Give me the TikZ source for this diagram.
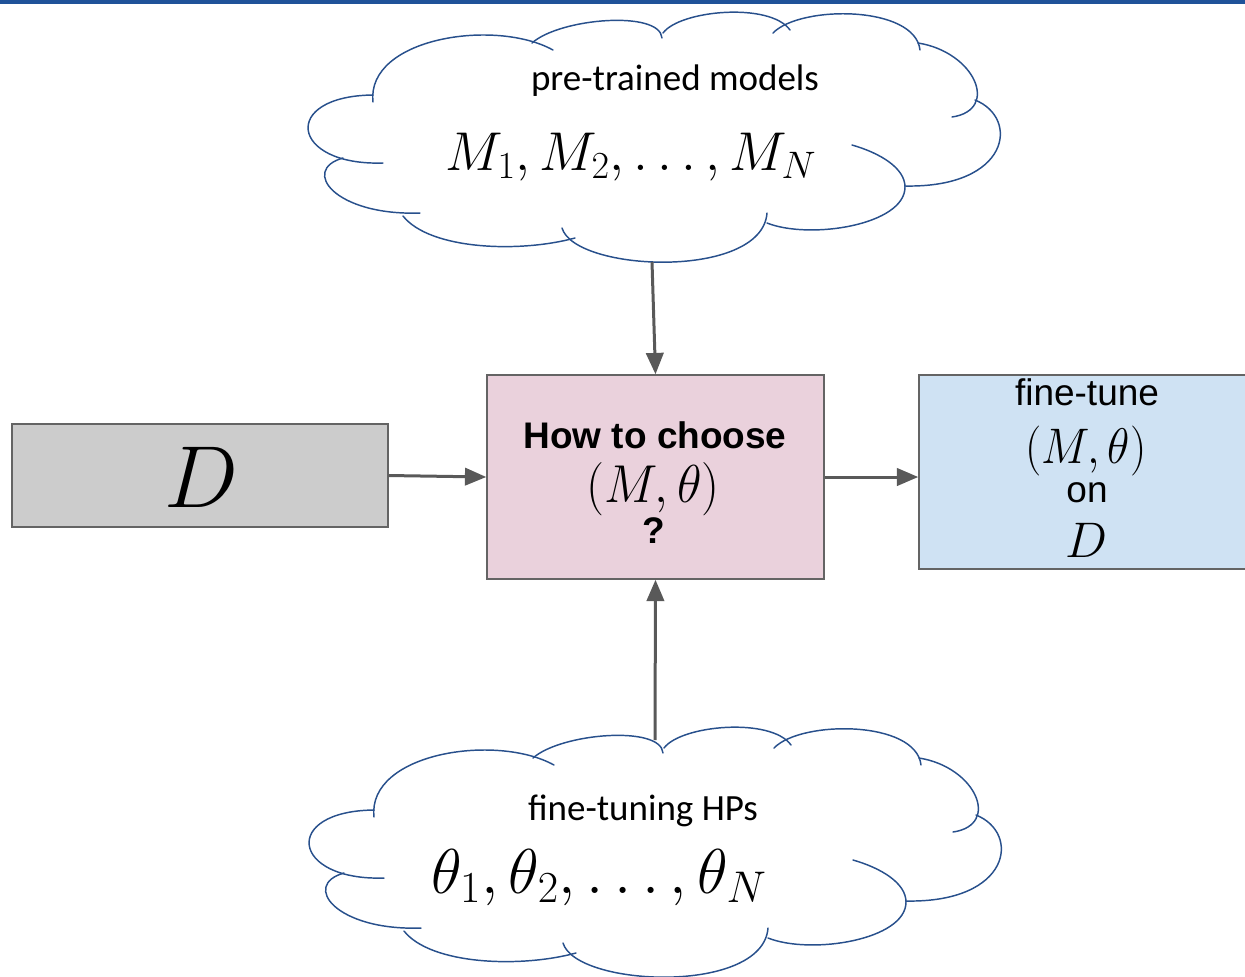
\documentclass[tikz,border=0pt]{standalone}
\usepackage{fix-cm}
\usepackage[no-math]{fontspec}
\usepackage{graphicx}
\newfontfamily\arialf{Liberation Sans}
\newfontfamily\calf{Carlito}
\usetikzlibrary{arrows.meta}
\definecolor{topbar}{RGB}{31,82,153}
\definecolor{cloudc}{RGB}{40,80,140}
\definecolor{boxborder}{RGB}{100,100,100}
\definecolor{arrowc}{RGB}{89,89,89}
\definecolor{grayfill}{RGB}{204,204,204}
\definecolor{pinkfill}{RGB}{234,209,220}
\definecolor{bluefill}{RGB}{207,226,243}
\newcommand{\cloudlobes}{%
 \draw[cloudline] (373,102) .. controls (366,38) and (495,18) .. (553,50);
 \draw[cloudline] (532,43) .. controls (560,18) and (660,10) .. (662,38);
 \draw[cloudline] (663,33) .. controls (680,10) and (770,2) .. (790,30);
 \draw[cloudline] (773,33) .. controls (800,5) and (915,5) .. (920,50);
 \draw[cloudline] (918,43) .. controls (975,52) and (1000,110) .. (952,117);
 \draw[cloudline] (975,100) .. controls (1020,118) and (1010,188) .. (905,186);
 \draw[cloudline] (852,145) .. controls (880,153) and (905,168) .. (905,187)
                             .. controls (905,225) and (810,240) .. (767,223);
 \draw[cloudline] (767,213) .. controls (762,280) and (575,272) .. (562,228);
 \draw[cloudline] (575,238) .. controls (520,253) and (430,250) .. (403,216);
 \draw[cloudline] (420,213) .. controls (335,216) and (300,170) .. (343,158);
 \draw[cloudline] (383,163) .. controls (290,166) and (280,96) .. (373,95);
}
\begin{document}
\begin{tikzpicture}[x=0.75pt,y=-0.75pt,
  cloudline/.style={draw=cloudc,line width=1.1pt,line cap=round,line join=round},
  box/.style={draw=boxborder,line width=1.1pt,rectangle,inner sep=0pt},
  txt/.style={anchor=base,inner sep=0pt,text=black},
  conn/.style={draw=arrowc,line width=2.25pt,-{Triangle[length=16pt,width=13pt]}}]
\useasboundingbox (0,0) rectangle (1245,976);
\fill[topbar] (0,0) rectangle (1245,4);
% clouds
\cloudlobes
\begin{scope}[shift={(1,715)}]
\cloudlobes
\end{scope}
\coordinate (tc) at (652,262);
\coordinate (bc) at (655,740);
% cloud texts
\node[txt,font=\calf\fontsize{27.75}{33}\selectfont] (pm) at (675,90) {pre-trained models};
\node[txt,font=\fontsize{41}{48}\selectfont] (ml) at (631,170) {$M_1, M_2, \ldots, M_N$};
\node[txt,font=\calf\fontsize{27.75}{33}\selectfont] (fh) at (643,820) {fine-tuning HPs};
\node[txt,font=\fontsize{47.5}{54}\selectfont] (tl) at (599,893) {$\theta_1, \theta_2, \ldots, \theta_N$};
% boxes
\node[box,fill=grayfill,minimum width=282pt,minimum height=77.25pt] (dbox) at (200,475.5) {};
\node[box,fill=pinkfill,minimum width=252.75pt,minimum height=153pt] (choose) at (655.5,477) {};
\node[box,fill=bluefill,minimum width=249pt,minimum height=145.5pt] (ft) at (1085,472) {};
% box texts
\node[txt,font=\fontsize{66}{70}\selectfont] (dl) at (201,507) {$D$};
\node[txt,font=\arialf\bfseries\fontsize{27.75}{33}\selectfont] (hc) at (655,448) {How to choose};
\node[txt,font=\fontsize{40}{46}\selectfont] (mt) at (653,502) {\scalebox{0.95}[1]{$(M,\theta)$}};
\node[txt,font=\arialf\bfseries\fontsize{27.75}{33}\selectfont] (qm) at (654,543) {?};
\node[txt,font=\arialf\fontsize{27.75}{33}\selectfont] (ftt) at (1087,405) {fine-tune};
\node[txt,font=\fontsize{37.5}{42}\selectfont] (mt2) at (1086,463) {\scalebox{0.92}[1]{$(M,\theta)$}};
\node[txt,font=\arialf\fontsize{27.75}{33}\selectfont] (on) at (1087,502) {on};
\node[txt,font=\fontsize{37.5}{42}\selectfont] (d2) at (1086,557) {$D$};
% connectors
\draw[conn] (tc) -- (choose.north);
\draw[conn] (bc) -- (choose.south);
\draw[conn] (dbox.east) -- (choose.west);
\draw[conn] (choose.east) -- (choose.east -| ft.west);
\end{tikzpicture}
\end{document}
